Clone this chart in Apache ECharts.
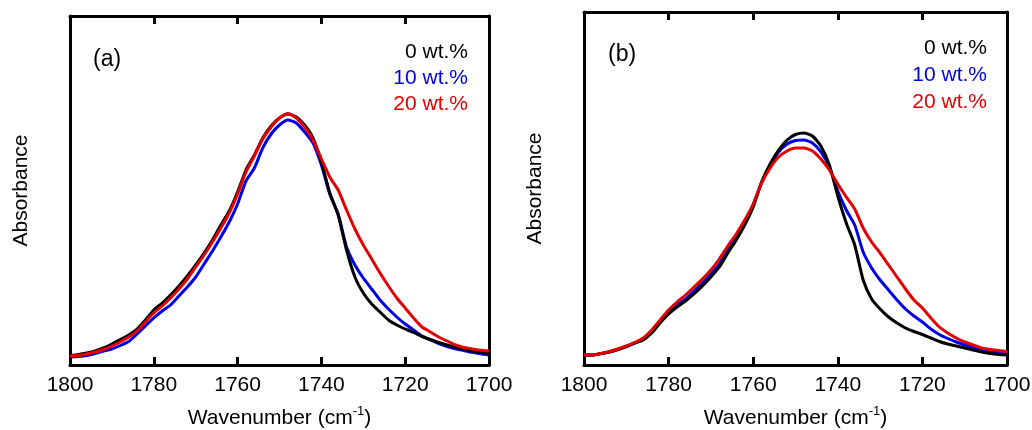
<!DOCTYPE html>
<html>
<head>
<meta charset="utf-8">
<script src="https://cdn.jsdelivr.net/npm/echarts@6/dist/echarts.min.js"></script>
<style>
html,body{margin:0;padding:0;background:#fff;}
#chart{width:1032px;height:430px;}
</style>
</head>
<body>
<div id="chart"></div>
<script>
// Wavenumber grid (cm-1), 1800 -> 1700 in steps of 2
const wavenumbers = [1800,1798,1796,1794,1792,1790,1788,1786,1784,1782,1780,1778,1776,1774,1772,1770,1768,1766,1764,1762,1760,1758,1756,1754,1752,1750,1748,1746,1744,1742,1740,1738,1736,1734,1732,1730,1728,1726,1724,1722,1720,1718,1716,1714,1712,1710,1708,1706,1704,1702,1700];
const xTicks = [1800,1780,1760,1740,1720,1700];
const seriesNames = ['0 wt.%','10 wt.%','20 wt.%'];

// Panel (a) absorbance (arbitrary units)
const a_0wt = [9.5,10.5,12,14,17,21,25.5,30,36,45,55,62,70,79,89,100,112,125,140,154,173,195,210,227,239,247,251,248,240,227,203,172,150,115,88,72,61,53,45,40,36,32.5,28.5,25.5,22.5,20,17.7,15.7,14,12.5,11.2];
const a_10wt = [8,8.5,9.5,11.5,14,16,19.5,23.5,31,39,47,54,60,69,78,88,101,114,128,143,161,184,197,217,231,240,245,242,233,222,200,171,151,118,100,87,76,65,56,48,41,35,29,25,21.5,18.5,16.3,14.5,12.7,11.2,10];
const a_20wt = [9,9.5,11,13,15.5,19,23,28,34,43,52,59,67,76,86,98,110,123,137,152,171,193,209,226,238,247,251.5,247,238,225,206,188,175,155,136,120,106,92,79,67,57,47,38,33,28,24,20,17.5,16,14.8,14];

// Panel (b) absorbance (arbitrary units)
const b_0wt = [10,10,11.5,13,15.5,18.5,22,25,32,42,51,58,64,71,79,88,98,112,125,140,158,183,201,215,225,230.5,232,229,219,200,169,142,120,85,66,56,48,42,37,33.5,30.5,27,23.5,21,19,17,15,13,11.5,10.5,10];
const b_10wt = [10,10,11.5,13,15.5,18.5,22,25.5,33,43,52,60,66,74,82,91,101,115,128,142,160,183,200,213,221,224.5,225,222,213,198,174,155,140,113,97,85,75,65,56,49,43,36,30.5,26.5,23,20,17.5,15.5,13.5,12,11];
const b_20wt = [10,10,11.5,13.5,16,19,22.5,27,35,45,55,63,70,78,86,95,106,119,131,145,161,182,197,208,214,217,217,214,206,195,181,168,156,137,123,112,100,88,76,65,57,47,38,32,27,23,20,17,15.5,14.5,13.5];

const colors = ['#000000','#0000e6','#e30000'];
const FONT = 'Liberation Sans, Arial, sans-serif';

function pair(vals){ return wavenumbers.map((w,i)=>[w, vals[i]]); }

const grids = [
  {left:70, top:16, width:419, height:349, containLabel:false, outerBoundsMode:'none'},
  {left:584, top:12, width:423, height:353, containLabel:false, outerBoundsMode:'none'}
];
const yMax = [349, 353];

const xAxes = [], yAxes = [], series = [];
grids.forEach((g, gi) => {
  xAxes.push({
    type:'value', gridIndex:gi, min:1700, max:1800, interval:20, inverse:true, position:'bottom',
    axisLine:{show:true, onZero:false, lineStyle:{color:'#000', width:3}},
    axisTick:{show:true, inside:true, length:8, lineStyle:{color:'#000', width:3}},
    axisLabel:{show:true, margin:10, color:'#000', fontSize:21, fontFamily:FONT,
      formatter: v => String(v)},
    splitLine:{show:false},
    name:'{n|Wavenumber (cm}{s|-1}{n|)}',
    nameLocation:'middle', nameGap:40,
    nameTextStyle:{color:'#000', fontFamily:FONT,
      rich:{n:{fontSize:21, fontFamily:FONT, color:'#000', lineHeight:26},
            s:{fontSize:13, fontFamily:FONT, color:'#000', verticalAlign:'top', lineHeight:26, padding:[0,0,10,0]}}}
  });
  xAxes.push({
    type:'value', gridIndex:gi, min:1700, max:1800, interval:20, inverse:true, position:'top',
    axisLine:{show:true, onZero:false, lineStyle:{color:'#000', width:3}},
    axisTick:{show:true, inside:true, length:8, lineStyle:{color:'#000', width:3}},
    axisLabel:{show:false}, splitLine:{show:false}
  });
  yAxes.push({
    type:'value', gridIndex:gi, min:0, max:yMax[gi], position:'left',
    axisLine:{show:true, onZero:false, lineStyle:{color:'#000', width:3}},
    axisTick:{show:false}, axisLabel:{show:false}, splitLine:{show:false},
    name:'Absorbance', nameLocation:'middle', nameGap:38, nameRotate:90,
    nameTextStyle:{color:'#000', fontSize:21, fontFamily:FONT}
  });
  yAxes.push({
    type:'value', gridIndex:gi, min:0, max:yMax[gi], position:'right',
    axisLine:{show:true, onZero:false, lineStyle:{color:'#000', width:3}},
    axisTick:{show:false}, axisLabel:{show:false}, splitLine:{show:false}
  });
});

const panelData = [[a_0wt,a_10wt,a_20wt],[b_0wt,b_10wt,b_20wt]];
panelData.forEach((arrs, gi) => {
  arrs.forEach((vals, si) => {
    series.push({
      type:'line', name:seriesNames[si], xAxisIndex:gi*2, yAxisIndex:gi*2,
      data: pair(vals), showSymbol:false, symbol:'none', smooth:0.2,
      lineStyle:{color:colors[si], width:3}, z:2+ (si===0?1:(si===1?0:2)),
      animation:false
    });
  });
});

const legendPos = [
  {right:468, ys:[52,78,104], label:'(a)', lx:93, ly:60},
  {right:987, ys:[48,75,102], label:'(b)', lx:608, ly:55}
];
const graphics = [];
legendPos.forEach(p => {
  seriesNames.forEach((n, i) => {
    graphics.push({type:'text', x:p.right, y:p.ys[i], style:{text:n, fill:colors[i], font:'21px '+FONT, textAlign:'right', textVerticalAlign:'middle'}});
  });
  graphics.push({type:'text', x:p.lx, y:p.ly, style:{text:p.label, fill:'#000', font:'23px '+FONT, textAlign:'left', textVerticalAlign:'middle'}});
});

const chart = echarts.init(document.getElementById('chart'), null, {renderer:'canvas'});
chart.setOption({
  backgroundColor:'#fff',
  animation:false,
  grid: grids,
  xAxis: xAxes,
  yAxis: yAxes,
  series: series,
  graphic: graphics
});
</script>
</body>
</html>
